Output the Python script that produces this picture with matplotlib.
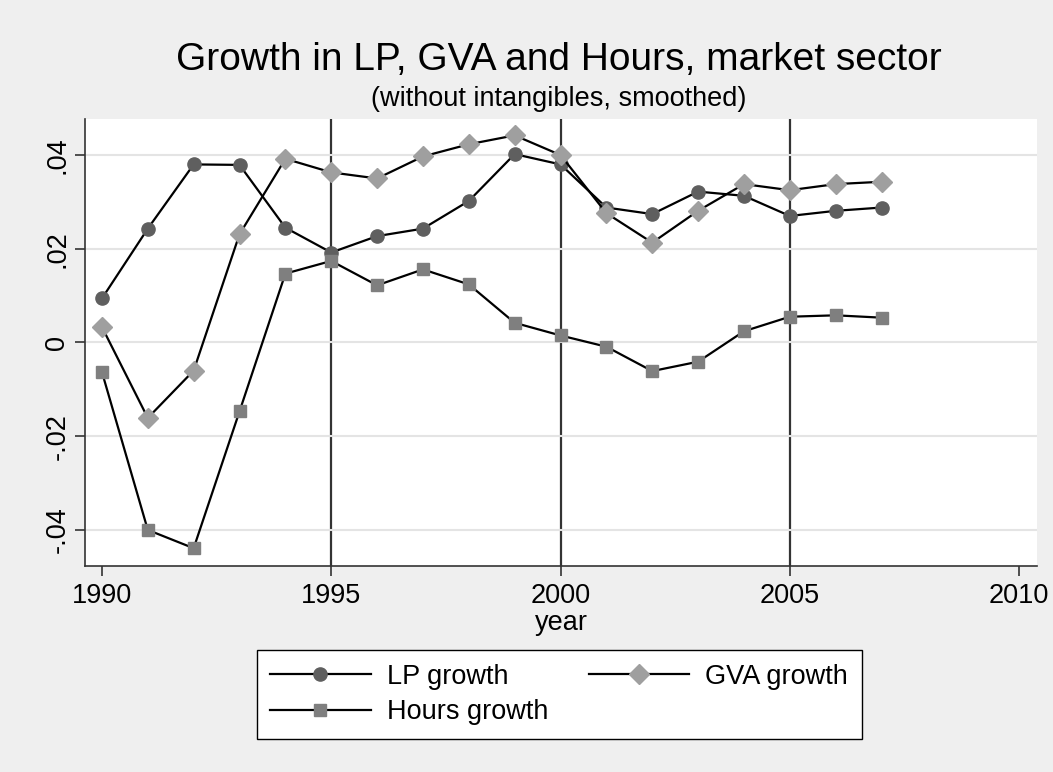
import matplotlib
matplotlib.use("Agg")
import matplotlib.pyplot as plt

plt.rcParams['font.family'] = ['Liberation Sans', 'DejaVu Sans']

years = list(range(1990, 2008))
lp_growth = [0.0094, 0.0243, 0.0380, 0.0379, 0.0245, 0.0192, 0.0227, 0.0243, 0.0302,
             0.0402, 0.0380, 0.0288, 0.0274, 0.0322, 0.0313, 0.0270, 0.0281, 0.0288]
gva_growth = [0.0033, -0.0161, -0.0060, 0.0231, 0.0392, 0.0363, 0.0350, 0.0397, 0.0423,
              0.0442, 0.0400, 0.0276, 0.0213, 0.0281, 0.0338, 0.0325, 0.0338, 0.0343]
hours_growth = [-0.0063, -0.0400, -0.0439, -0.0147, 0.0147, 0.0174, 0.0122, 0.0156, 0.0124,
                0.0042, 0.0015, -0.0009, -0.0061, -0.0041, 0.0024, 0.0055, 0.0058, 0.0053]

x_ticks = [1990, 1995, 2000, 2005, 2010]
y_ticks = [-0.04, -0.02, 0, 0.02, 0.04]
y_labels = ['-.04', '-.02', '0', '.02', '.04']
vlines = [1995, 2000, 2005]

bg = '#efefef'
fig = plt.figure(figsize=(10.53, 7.72), dpi=100, facecolor=bg)
ax = fig.add_axes([0.0807, 0.2668, 0.9041, 0.5791])
ax.set_facecolor('white')

for v in vlines:
    ax.axvline(v, color='#333333', lw=1.6, zorder=1)

l1, = ax.plot(years, lp_growth, color='black', lw=1.6, marker='o', ms=9.5,
              mfc='#5f5f5f', mec='#5f5f5f', label='LP growth', zorder=3)
l2, = ax.plot(years, gva_growth, color='black', lw=1.6, marker='D', ms=10,
              mfc='#9f9f9f', mec='#9f9f9f', label='GVA growth', zorder=3)
l3, = ax.plot(years, hours_growth, color='black', lw=1.6, marker='s', ms=9,
              mfc='#7f7f7f', mec='#7f7f7f', label='Hours growth', zorder=3)

ax.set_xlim(1989.63, 2010.39)
ax.set_ylim(-0.0477, 0.0477)
ax.set_xticks(x_ticks)
ax.set_yticks(y_ticks)
ax.set_yticklabels(y_labels, rotation=90, va='center')
ax.grid(axis='y', color='#e4e4e4', lw=1.5, zorder=0)
ax.tick_params(labelsize=19.5, length=7, width=1.2, color='#333333')
ax.tick_params(axis='x', pad=5)

for s in ['top', 'right']:
    ax.spines[s].set_visible(False)
for s in ['left', 'bottom']:
    ax.spines[s].set_color('#333333')
    ax.spines[s].set_linewidth(1.2)

ax.set_xlabel('year', fontsize=19.5, labelpad=1)

fig.text(0.531, 0.922, 'Growth in LP, GVA and Hours, market sector', ha='center',
         va='center', fontsize=28)
fig.text(0.531, 0.872, '(without intangibles, smoothed)', ha='center', va='center',
         fontsize=19.5)

# column-major fill: give handles so rows read LP, GVA / Hours
leg = fig.legend([l1, l3, l2], ['LP growth', 'Hours growth', 'GVA growth'],
                 loc='center', bbox_to_anchor=(0.531, 0.1004), ncol=2, fontsize=19.5,
                 frameon=True, fancybox=False, edgecolor='black', handlelength=3.7,
                 handletextpad=0.6, columnspacing=1.5, borderpad=0.5, labelspacing=0.35)
leg.get_frame().set_linewidth(1.0)
leg.get_frame().set_facecolor('white')
leg.get_frame().set_alpha(1)

fig.savefig('out.png', dpi=100, facecolor=bg)
